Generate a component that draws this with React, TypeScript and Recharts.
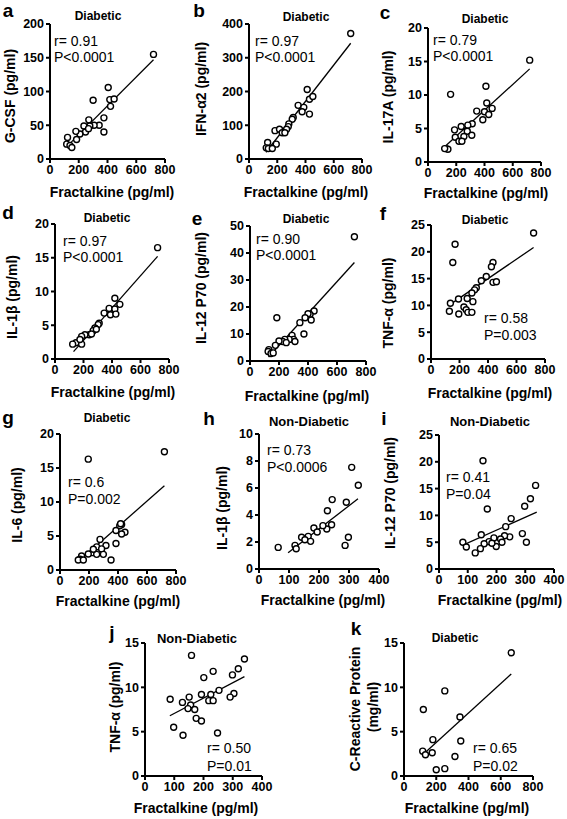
import React from 'react';
import { ScatterChart, Scatter, XAxis, YAxis, ReferenceLine } from 'recharts';

const FONT = '"Liberation Sans", Arial, Helvetica, sans-serif';

// ---------- data ----------
const xTicks800 = [0, 200, 400, 600, 800];
const xTicks400 = [0, 100, 200, 300, 400];

// a: G-CSF (Diabetic)
const gcsfX = [720, 405, 416, 446, 300, 421, 375, 375, 270, 342, 307, 277, 236, 247, 208, 180, 185, 122, 116, 139, 152, 268];
const gcsfY = [155, 106, 88, 89, 87, 78, 61, 40, 58, 50, 50, 49, 49, 40, 37, 41, 29, 32, 22, 20, 17, 45];
const gcsfLine = [[115, 18], [720, 147]];
const gcsfTicks = [0, 50, 100, 150, 200];

// b: IFN-a2 (Diabetic)
const ifnX = [720, 412, 428, 452, 428, 348, 388, 376, 313, 306, 282, 278, 266, 184, 216, 235, 254, 193, 132, 122, 137, 165];
const ifnY = [372, 206, 177, 185, 133, 159, 153, 140, 123, 118, 104, 96, 88, 84, 88, 78, 78, 44, 49, 33, 31, 31];
const ifnLine = [[120, 20], [720, 343]];
const ifnTicks = [0, 100, 200, 300, 400];

// c: IL-17A (Diabetic)
const il17X = [720, 410, 160, 416, 454, 400, 430, 388, 313, 282, 235, 188, 278, 310, 254, 193, 219, 240, 129, 141, 118, 345];
const il17Y = [15.2, 11.3, 10.1, 8.8, 8.0, 7.5, 7.1, 6.3, 5.7, 5.5, 5.3, 4.8, 4.6, 4.0, 3.8, 3.7, 3.1, 3.1, 2.0, 1.9, 2.0, 7.6];
const il17Line = [[120, 2.3], [720, 13.9]];
const il17Ticks = [0, 5, 10, 15, 20];

// d: IL-1b (Diabetic)
const il1dX = [720, 420, 380, 420, 455, 345, 389, 427, 310, 303, 280, 268, 240, 256, 210, 187, 147, 124, 187, 175, 290];
const il1dY = [16.5, 9.0, 7.5, 7.4, 8.1, 6.8, 6.55, 6.65, 5.3, 5.1, 4.6, 4.2, 3.6, 3.7, 3.6, 3.35, 2.4, 2.2, 2.2, 2.9, 4.4];
const il1dLine = [[130, 1.1], [720, 15.2]];
const il1dTicks = [0, 5, 10, 15, 20];

// e: IL-12 P70 (Diabetic)
const il12dX = [720, 185, 442, 414, 400, 422, 380, 344, 372, 290, 300, 270, 240, 225, 250, 200, 175, 130, 125, 145, 160, 310];
const il12dY = [46, 16, 18.5, 17.2, 17.5, 15.2, 16, 14.2, 10, 9.5, 8, 8, 8, 7.2, 6.8, 7.4, 5.8, 4.2, 3.5, 2.8, 3.0, 7.2];
const il12dLine = [[128, 1.5], [720, 36.5]];
const il12dTicks = [0, 10, 20, 30, 40, 50];

// f: TNF-a (Diabetic)
const tnfdX = [720, 169, 153, 435, 424, 388, 353, 435, 459, 318, 306, 287, 254, 193, 294, 136, 231, 247, 259, 287, 195, 129];
const tnfdY = [23.5, 21.4, 18.0, 18.0, 17.2, 15.4, 14.6, 14.3, 14.4, 13.3, 12.9, 12.3, 11.3, 11.2, 10.7, 10.4, 9.7, 9.2, 8.7, 8.7, 8.4, 8.9];
const tnfdLine = [[130, 10.1], [720, 20.8]];
const tnfdTicks = [0, 5, 10, 15, 20, 25];

// g: IL-6 (Diabetic)
const il6X = [720, 195, 425, 412, 418, 386, 448, 425, 386, 276, 317, 253, 287, 225, 195, 253, 299, 149, 352, 138, 126, 161, 230];
const il6Y = [17.4, 16.3, 6.7, 6.5, 6.8, 5.8, 5.55, 5.3, 3.9, 4.5, 3.6, 3.4, 3.1, 2.55, 2.35, 2.3, 2.3, 2.06, 1.47, 1.57, 1.47, 1.47, 3.05];
const il6Line = [[126, 1.2], [720, 12.4]];
const il6Ticks = [0, 5, 10, 15, 20];

// h: IL-1b (Non-Diabetic)
const il1nX = [309, 331, 244, 291, 228, 242, 226, 213, 183, 194, 164, 142, 153, 172, 120, 124, 64, 298, 287];
const il1nY = [7.53, 6.2, 5.14, 4.94, 4.32, 3.28, 2.96, 3.21, 3.04, 2.74, 2.42, 2.35, 2.17, 2.05, 1.75, 1.5, 1.6, 2.35, 1.75];
const il1nLine = [[97, 1.2], [330, 5.2]];
const il1nTicks = [0, 2, 4, 6, 8, 10];

// i: IL-12 P70 (Non-Diabetic)
const il12nX = [153, 336, 318, 298, 168, 251, 232, 147, 290, 304, 246, 228, 214, 191, 174, 157, 199, 184, 144, 126, 83, 95, 219];
const il12nY = [20.2, 15.6, 13.1, 11.7, 11.2, 9.4, 7.9, 6.4, 6.6, 5.0, 6.0, 6.2, 5.6, 5.8, 5.1, 4.7, 4.2, 4.8, 3.8, 3.0, 5.0, 4.1, 5.0];
const il12nLine = [[85, 4.5], [340, 10.6]];
const il12nTicks = [0, 5, 10, 15, 20, 25];

// j: TNF-a (Non-Diabetic)
const tnfnX = [159, 340, 319, 233, 299, 201, 253, 304, 291, 225, 193, 218, 233, 86, 128, 151, 156, 147, 170, 175, 193, 98, 130, 248];
const tnfnY = [13.6, 13.2, 12.1, 11.8, 11.4, 11.1, 9.66, 9.3, 8.9, 9.2, 9.2, 8.5, 8.5, 8.65, 8.3, 8.9, 8.0, 7.6, 7.5, 6.5, 6.2, 5.5, 4.6, 4.85];
const tnfnLine = [[85, 6.8], [340, 11.2]];
const tnfnTicks = [0, 5, 10, 15];

// k: C-Reactive Protein (Diabetic)
const crpX = [665, 253, 120, 347, 179, 352, 116, 133, 175, 316, 200, 253];
const crpY = [13.9, 9.6, 7.5, 6.65, 4.1, 3.95, 2.8, 2.4, 2.63, 2.2, 0.71, 0.83];
const crpLine = [[135, 2.7], [665, 11.5]];
const crpTicks = [0, 5, 10, 15];

// ---------- panel layout ----------
type P = {
  xs: number[]; ys: number[]; line: number[][];
  yTicks: number[]; xTicks: number[];
  x0: number; x1: number; yT: number; yB: number;
};

const panels: P[] = [
  { xs: gcsfX, ys: gcsfY, line: gcsfLine, yTicks: gcsfTicks, xTicks: xTicks800, x0: 50, x1: 165, yT: 24, yB: 159 },
  { xs: ifnX, ys: ifnY, line: ifnLine, yTicks: ifnTicks, xTicks: xTicks800, x0: 249, x1: 362, yT: 24, yB: 159 },
  { xs: il17X, ys: il17Y, line: il17Line, yTicks: il17Ticks, xTicks: xTicks800, x0: 428, x1: 541, yT: 28, yB: 162 },
  { xs: il1dX, ys: il1dY, line: il1dLine, yTicks: il1dTicks, xTicks: xTicks800, x0: 55, x1: 169, yT: 224, yB: 359 },
  { xs: il12dX, ys: il12dY, line: il12dLine, yTicks: il12dTicks, xTicks: xTicks800, x0: 250, x1: 366, yT: 226, yB: 361 },
  { xs: tnfdX, ys: tnfdY, line: tnfdLine, yTicks: tnfdTicks, xTicks: xTicks800, x0: 431, x1: 545, yT: 225, yB: 359 },
  { xs: il6X, ys: il6Y, line: il6Line, yTicks: il6Ticks, xTicks: xTicks800, x0: 60, x1: 176, yT: 434, yB: 570 },
  { xs: il1nX, ys: il1nY, line: il1nLine, yTicks: il1nTicks, xTicks: xTicks400, x0: 259, x1: 379, yT: 434, yB: 569 },
  { xs: il12nX, ys: il12nY, line: il12nLine, yTicks: il12nTicks, xTicks: xTicks400, x0: 439, x1: 554, yT: 435, yB: 569 },
  { xs: tnfnX, ys: tnfnY, line: tnfnLine, yTicks: tnfnTicks, xTicks: xTicks400, x0: 145, x1: 262, yT: 643, yB: 776 },
  { xs: crpX, ys: crpY, line: crpLine, yTicks: crpTicks, xTicks: xTicks800, x0: 404, x1: 533, yT: 643, yB: 776 },
];

function Dot(props: any) {
  const { cx, cy } = props;
  if (cx == null || cy == null) return null;
  return <circle cx={cx} cy={cy} r={3} fill="#fff" stroke="#000" strokeWidth={1.4} />;
}

const tickStyle = { fill: '#000', fontSize: 12.5, fontWeight: 700, fontFamily: FONT };
const axisLineStyle = { stroke: '#000', strokeWidth: 2 };

function Panel({ p }: { p: P }) {
  const data = p.xs.map((x, i) => ({ x, y: p.ys[i] }));
  const left = 50;
  const right = 14;
  const top = 10;
  const xh = 30;
  const W = p.x1 - p.x0 + left + right;
  const H = p.yB - p.yT + top + xh;
  const xMax = p.xTicks[p.xTicks.length - 1];
  const yMax = p.yTicks[p.yTicks.length - 1];
  return (
    <div style={{ position: 'absolute', left: p.x0 - left, top: p.yT - top }}>
      <ScatterChart width={W} height={H} margin={{ top, right, bottom: 0, left: 0 }}>
        <XAxis
          type="number" dataKey="x" domain={[0, xMax]} ticks={p.xTicks} interval={0}
          height={xh} tickSize={4} tickMargin={2} allowDataOverflow
          axisLine={axisLineStyle} tickLine={axisLineStyle} tick={tickStyle}
        />
        <YAxis
          type="number" dataKey="y" domain={[0, yMax]} ticks={p.yTicks} interval={0}
          width={left} tickSize={4} tickMargin={2} allowDataOverflow
          axisLine={axisLineStyle} tickLine={axisLineStyle} tick={tickStyle}
        />
        <ReferenceLine
          segment={[{ x: p.line[0][0], y: p.line[0][1] }, { x: p.line[1][0], y: p.line[1][1] }]}
          stroke="#000" strokeWidth={1.3} ifOverflow="visible"
        />
        <Scatter data={data} shape={Dot} isAnimationActive={false} />
      </ScatterChart>
    </div>
  );
}

type T = { t: string; x: number; y: number; size: number; bold?: boolean; rot?: boolean; align?: 'left' | 'center' };

const texts: T[] = [
  // panel letters
  { t: 'a', x: 8, y: 10, size: 19, bold: true },
  { t: 'b', x: 199, y: 10, size: 19, bold: true },
  { t: 'c', x: 385, y: 12, size: 19, bold: true },
  { t: 'd', x: 8, y: 212, size: 19, bold: true },
  { t: 'e', x: 197, y: 218, size: 19, bold: true },
  { t: 'f', x: 383, y: 213, size: 19, bold: true },
  { t: 'g', x: 8, y: 417, size: 19, bold: true },
  { t: 'h', x: 209, y: 418, size: 19, bold: true },
  { t: 'i', x: 384, y: 418, size: 19, bold: true },
  { t: 'j', x: 112, y: 632, size: 19, bold: true },
  { t: 'k', x: 356, y: 628, size: 19, bold: true },
  // titles
  { t: 'Diabetic', x: 98, y: 16, size: 12, bold: true },
  { t: 'Diabetic', x: 306, y: 17, size: 12, bold: true },
  { t: 'Diabetic', x: 485, y: 19, size: 12, bold: true },
  { t: 'Diabetic', x: 107, y: 218, size: 12, bold: true },
  { t: 'Diabetic', x: 306, y: 219, size: 12, bold: true },
  { t: 'Diabetic', x: 485, y: 220, size: 12, bold: true },
  { t: 'Diabetic', x: 107, y: 418, size: 12, bold: true },
  { t: 'Non-Diabetic', x: 309, y: 421, size: 13, bold: true },
  { t: 'Non-Diabetic', x: 490, y: 421, size: 13, bold: true },
  { t: 'Non-Diabetic', x: 197, y: 638, size: 13, bold: true },
  { t: 'Diabetic', x: 455, y: 638, size: 12, bold: true },
  // annotations
  { t: 'r= 0.91', x: 54, y: 41, size: 14, align: 'left' },
  { t: 'P<0.0001', x: 54, y: 57, size: 14, align: 'left' },
  { t: 'r= 0.97', x: 255, y: 41, size: 14, align: 'left' },
  { t: 'P<0.0001', x: 255, y: 57, size: 14, align: 'left' },
  { t: 'r= 0.79', x: 433, y: 40, size: 14, align: 'left' },
  { t: 'P<0.0001', x: 433, y: 56, size: 14, align: 'left' },
  { t: 'r= 0.97', x: 63, y: 241, size: 14, align: 'left' },
  { t: 'P<0.0001', x: 63, y: 257, size: 14, align: 'left' },
  { t: 'r= 0.90', x: 256, y: 239, size: 14, align: 'left' },
  { t: 'P<0.0001', x: 256, y: 255, size: 14, align: 'left' },
  { t: 'r= 0.58', x: 484, y: 318, size: 14, align: 'left' },
  { t: 'P=0.003', x: 484, y: 335, size: 14, align: 'left' },
  { t: 'r= 0.6', x: 68, y: 482, size: 14, align: 'left' },
  { t: 'P=0.002', x: 68, y: 499, size: 14, align: 'left' },
  { t: 'r= 0.73', x: 267, y: 450, size: 14, align: 'left' },
  { t: 'P<0.0006', x: 267, y: 467, size: 14, align: 'left' },
  { t: 'r= 0.41', x: 446, y: 477, size: 14, align: 'left' },
  { t: 'P=0.04', x: 446, y: 494, size: 14, align: 'left' },
  { t: 'r= 0.50', x: 207, y: 748, size: 14, align: 'left' },
  { t: 'P=0.01', x: 207, y: 766, size: 14, align: 'left' },
  { t: 'r= 0.65', x: 473, y: 748, size: 14, align: 'left' },
  { t: 'P=0.02', x: 473, y: 766, size: 14, align: 'left' },
  // y axis titles
  { t: 'G-CSF (pg/ml)', x: 10, y: 96, size: 14, bold: true, rot: true },
  { t: 'IFN-α2 (pg/ml)', x: 201, y: 89, size: 14, bold: true, rot: true },
  { t: 'IL-17A (pg/ml)', x: 388, y: 97, size: 14, bold: true, rot: true },
  { t: 'IL-1β (pg/ml)', x: 12, y: 297, size: 14, bold: true, rot: true },
  { t: 'IL-12 P70 (pg/ml)', x: 201, y: 288, size: 14, bold: true, rot: true },
  { t: 'TNF-α (pg/ml)', x: 388, y: 303, size: 14, bold: true, rot: true },
  { t: 'IL-6 (pg/ml)', x: 17, y: 505, size: 14, bold: true, rot: true },
  { t: 'IL-1β (pg/ml)', x: 222, y: 508, size: 14, bold: true, rot: true },
  { t: 'IL-12 P70 (pg/ml)', x: 390, y: 493, size: 14, bold: true, rot: true },
  { t: 'TNF-α (pg/ml)', x: 115, y: 707, size: 14, bold: true, rot: true },
  { t: 'C-Reactive Protein', x: 355, y: 709, size: 14, bold: true, rot: true },
  { t: '(mg/ml)', x: 373, y: 707, size: 14, bold: true, rot: true },
  // x axis titles
  { t: 'Fractalkine (pg/ml)', x: 112, y: 192, size: 14, bold: true },
  { t: 'Fractalkine (pg/ml)', x: 306, y: 192, size: 14, bold: true },
  { t: 'Fractalkine (pg/ml)', x: 486, y: 193, size: 14, bold: true },
  { t: 'Fractalkine (pg/ml)', x: 113, y: 392, size: 14, bold: true },
  { t: 'Fractalkine (pg/ml)', x: 307, y: 396, size: 14, bold: true },
  { t: 'Fractalkine (pg/ml)', x: 490, y: 393, size: 14, bold: true },
  { t: 'Fractalkine (pg/ml)', x: 118, y: 601, size: 14, bold: true },
  { t: 'Fractalkine (pg/ml)', x: 323, y: 600, size: 14, bold: true },
  { t: 'Fractalkine (pg/ml)', x: 500, y: 600, size: 14, bold: true },
  { t: 'Fractalkine (pg/ml)', x: 196, y: 808, size: 14, bold: true },
  { t: 'Fractalkine (pg/ml)', x: 467, y: 808, size: 14, bold: true },
];

function Txt({ d }: { d: T }) {
  const tf = d.rot
    ? 'translate(-50%, -50%) rotate(-90deg)'
    : d.align === 'left'
      ? 'translate(0, -50%)'
      : 'translate(-50%, -50%)';
  return (
    <div
      style={{
        position: 'absolute', left: d.x, top: d.y, transform: tf,
        fontFamily: FONT, fontSize: d.size, fontWeight: d.bold ? 700 : 400,
        whiteSpace: 'nowrap', lineHeight: 1, color: '#000',
      }}
    >
      {d.t}
    </div>
  );
}

export default function App() {
  return (
    <div style={{ position: 'absolute', left: 0, top: 0, width: 567, height: 819, background: '#fff', overflow: 'hidden' }}>
      {panels.map((p, i) => <Panel key={i} p={p} />)}
      {texts.map((d, i) => <Txt key={i} d={d} />)}
    </div>
  );
}
